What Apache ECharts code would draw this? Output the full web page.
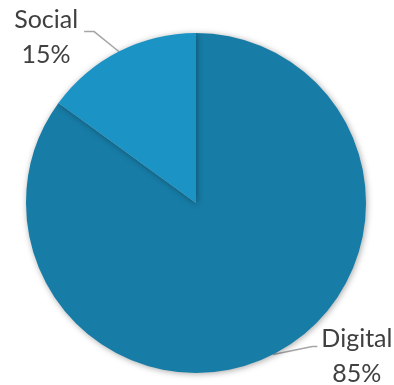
<!DOCTYPE html>
<html>
<head>
<meta charset="utf-8">
<script src="https://cdn.jsdelivr.net/npm/echarts@6/dist/echarts.min.js"></script>
<style>html,body{margin:0;padding:0;background:#fff}#c{width:394px;height:385px}</style>
</head>
<body>
<div id="c"></div>
<script>
const categories = ['Digital', 'Social'];
const values = [85, 15];
const colors = ['#177CA6', '#1B93C5'];
const labelShift = [[19, -23], [-8, 11]];

const chart = echarts.init(document.getElementById('c'));
chart.setOption({
  animation: false,
  series: [{
    type: 'pie',
    center: [196, 203],
    radius: [0, 170],
    startAngle: 90,
    clockwise: true,
    data: categories.map((c, i) => ({ name: c, value: values[i], itemStyle: { color: colors[i] } })),
    itemStyle: { shadowBlur: 6, shadowColor: 'rgba(0,0,0,0.35)', shadowOffsetX: 1, shadowOffsetY: 1 },
    label: {
      show: true,
      position: 'outside',
      formatter: '{t|{b}}\n{t|{d}%}',
      rich: {
        t: { fontFamily: 'Lato', fontSize: 25, lineHeight: 35, color: '#404040', width: 70, align: 'center' }
      }
    },
    labelLine: {
      show: true,
      length: 28,
      length2: 12,
      smooth: false,
      lineStyle: { color: '#A6A6A6', width: 1.5 }
    },
    labelLayout: function (params) {
      const s = labelShift[params.dataIndex];
      const r = params.labelRect;
      const pts = params.labelLinePoints;
      const rightSide = pts && pts[0][0] < r.x;
      const cy = r.y + r.height / 2 + s[1];
      let end, mid;
      if (rightSide) {
        end = [r.x + s[0] - 4, cy - 10];
        mid = [end[0] - 5, end[1]];
      } else {
        end = [r.x + r.width + s[0] + 3, cy - 6];
        mid = [end[0] + 10, end[1]];
      }
      const out = { dx: s[0], dy: s[1] };
      if (pts) out.labelLinePoints = [pts[0], mid, end];
      return out;
    }
  }]
});
</script>
</body>
</html>
